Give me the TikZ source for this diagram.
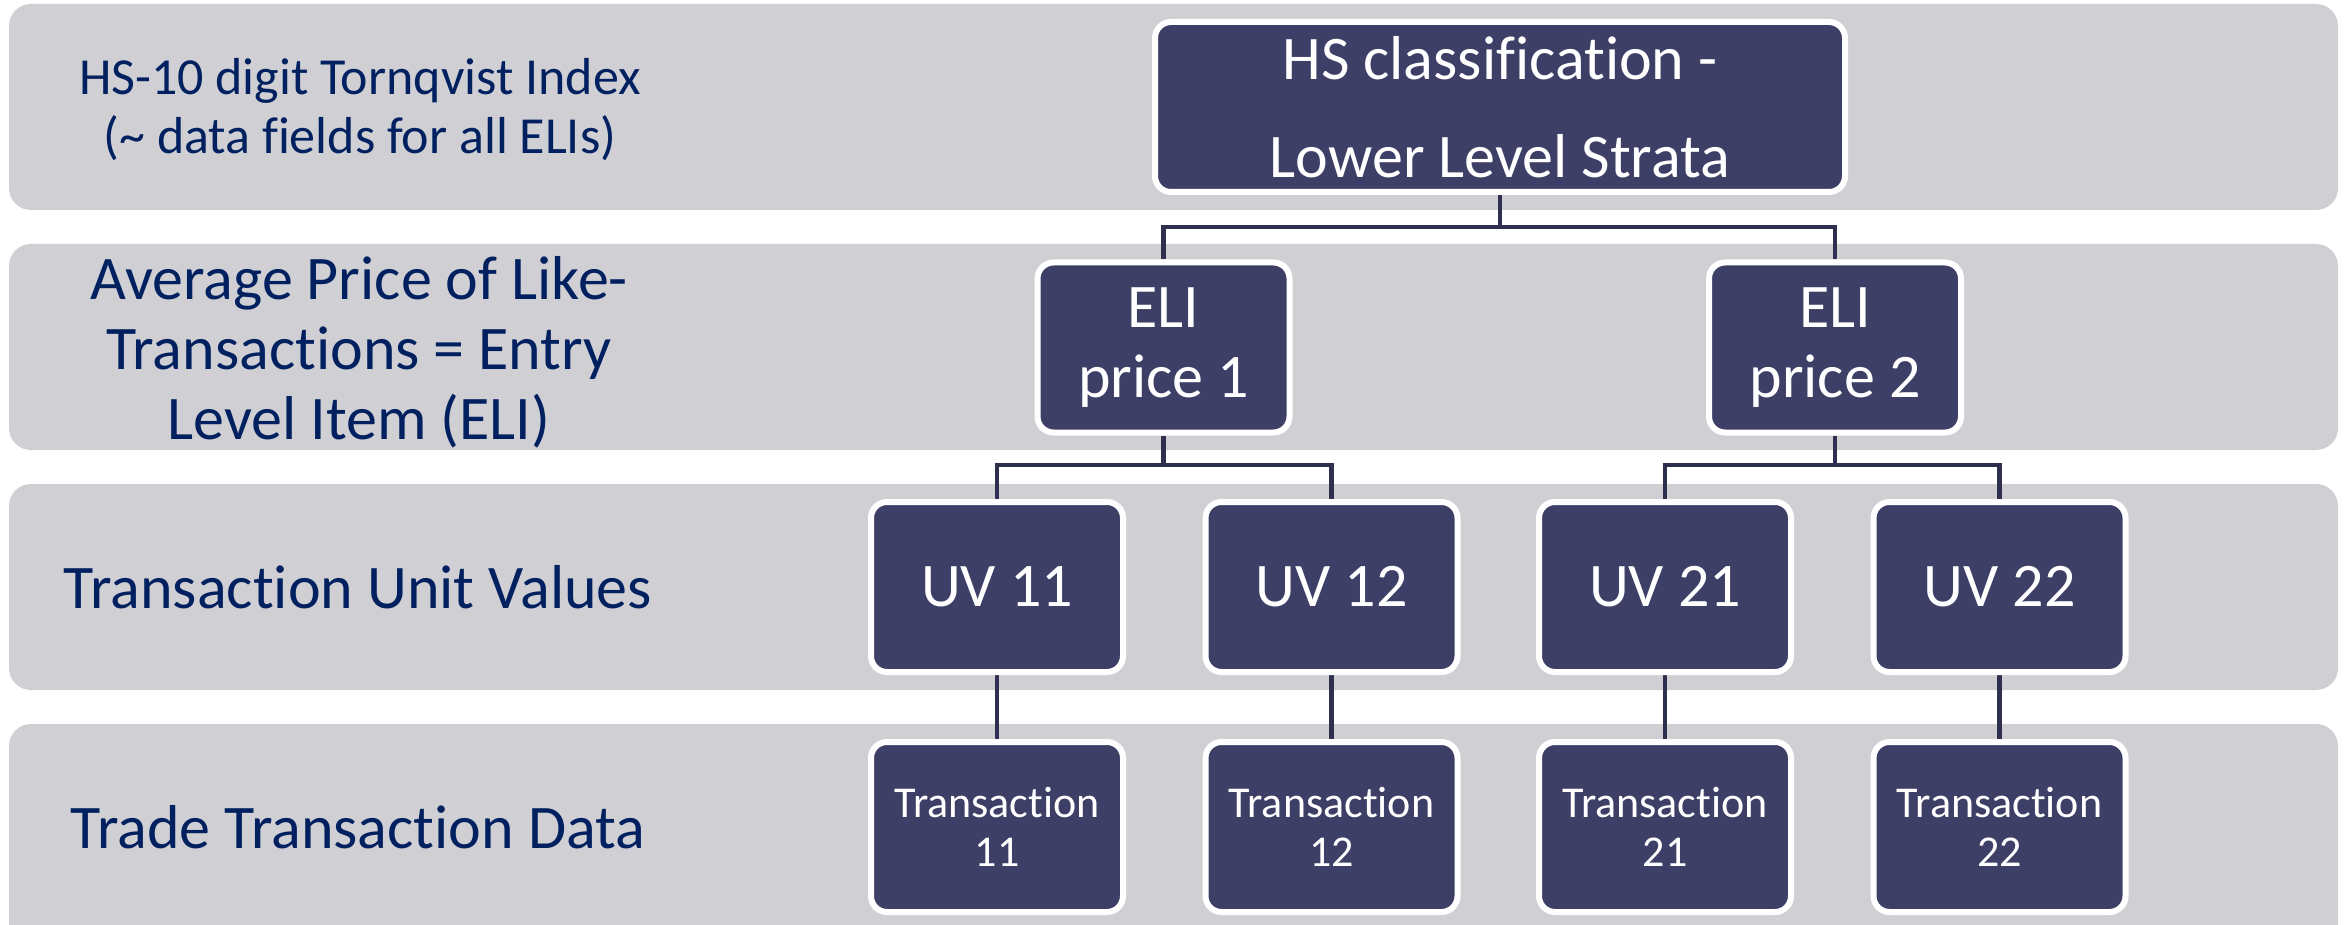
\documentclass[tikz,border=0pt]{standalone}
\usepackage{fontspec}
\setmainfont{Carlito}[Ligatures={NoCommon}, RawFeature={-liga;-clig;-calt;-dlig}]
\pgfdeclarelayer{bands}
\pgfdeclarelayer{edges}
\pgfsetlayers{bands,edges,main}
\definecolor{bandgray}{HTML}{D0CFD4}
\definecolor{boxfill}{HTML}{3E3F66}
\definecolor{navy}{HTML}{002060}
\definecolor{linec}{HTML}{2F3050}
\begin{document}
\begin{tikzpicture}[x=1pt,y=-1pt,
  band/.style={fill=bandgray, rounded corners=22pt},
  lbl/.style={text=navy, align=center, inner sep=0pt},
  box/.style={draw=white, line width=6pt, fill=boxfill, rounded corners=16pt,
    text=white, align=center, inner sep=0pt, minimum height=170pt, minimum width=252pt},
  conn/.style={draw=linec, line width=4.5pt}]
\useasboundingbox (0,0) rectangle (2348,925);
\begin{pgfonlayer}{bands}
\fill[white] (0,0) rectangle (2348,925);
\fill[band] (9,4) rectangle (2338,210);
\fill[band] (9,244) rectangle (2338,450);
\fill[band] (9,484) rectangle (2338,690);
\fill[band] (9,724) rectangle (2338,960);
\end{pgfonlayer}

% left labels
\node[lbl, font=\fontsize{52}{59}\selectfont] (l1) at (360,110) {HS-10 digit Tornqvist Index\\(\char`~\ data fields for all ELIs)};
\node[lbl, font=\fontsize{62}{70}\selectfont] (l2) at (359,352) {Average Price of Like-\\Transactions = Entry\\Level Item (ELI)};
\node[lbl, font=\fontsize{62}{70}\selectfont] (l3) at (358,587) {Transaction Unit Values};
\node[lbl, font=\fontsize{62}{70}\selectfont] (l4) at (358,827) {Trade Transaction Data};

% boxes
\node[box, minimum width=690pt, font=\fontsize{62}{98}\selectfont] (top) at (1500,107) {HS classification -\\Lower Level Strata};
\node[box, font=\fontsize{62}{70}\selectfont] (e1) at (1163.5,347.5) {ELI\\price 1};
\node[box, font=\fontsize{62}{70}\selectfont] (e2) at (1835,347.5) {ELI\\price 2};
\node[box, font=\fontsize{62}{70}\selectfont] (u11) at (997,587) {UV 11};
\node[box, font=\fontsize{62}{70}\selectfont] (u12) at (1331.5,587) {UV 12};
\node[box, font=\fontsize{62}{70}\selectfont] (u21) at (1665,587) {UV 21};
\node[box, font=\fontsize{62}{70}\selectfont] (u22) at (1999.5,587) {UV 22};
\node[box, font=\fontsize{44}{49}\selectfont] (t11) at (997,827) {Transaction\\11};
\node[box, font=\fontsize{44}{49}\selectfont] (t12) at (1331.5,827) {Transaction\\12};
\node[box, font=\fontsize{44}{49}\selectfont] (t21) at (1665,827) {Transaction\\21};
\node[box, font=\fontsize{44}{49}\selectfont] (t22) at (1999.5,827) {Transaction\\22};

\coordinate (j0) at (1500,227);
\coordinate (j1) at (1163.5,465);
\coordinate (j2) at (1835,465);
\begin{pgfonlayer}{edges}
\draw[conn] (top.south) -- (j0);
\draw[conn] (e1.north) |- (j0) -| (e2.north);
\draw[conn] (e1.south) -- (j1);
\draw[conn] (u11.north) |- (j1) -| (u12.north);
\draw[conn] (e2.south) -- (j2);
\draw[conn] (u21.north) |- (j2) -| (u22.north);
\draw[conn] (u11) -- (t11);
\draw[conn] (u12) -- (t12);
\draw[conn] (u21) -- (t21);
\draw[conn] (u22) -- (t22);
\end{pgfonlayer}
\end{tikzpicture}
\end{document}
